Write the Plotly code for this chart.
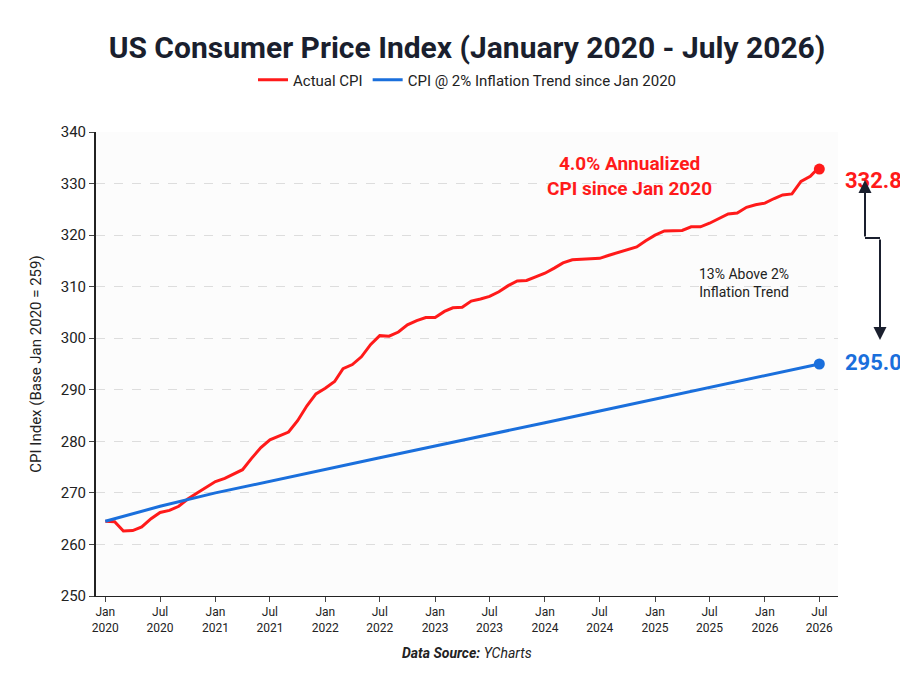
import plotly.graph_objects as go
import pandas as pd

dates = pd.date_range("2020-01-01", "2026-07-01", freq="MS")
actual_cpi = [264.5,264.4,262.6,262.7,263.4,265.0,266.2,266.6,267.4,268.8,270.0,271.0,
              272.2,272.8,273.6,274.5,276.7,278.8,280.3,281.0,281.8,284.0,286.9,289.2,
              290.3,291.6,294.1,294.9,296.4,298.8,300.5,300.4,301.2,302.6,303.4,304.0,
              304.0,305.2,305.9,306.0,307.2,307.6,308.1,309.0,310.2,311.1,311.2,311.9,
              312.6,313.6,314.6,315.2,315.3,315.3,315.5,316.1,316.6,317.2,317.7,318.9,
              320.0,320.8,320.8,320.9,321.6,321.6,322.3,323.2,324.1,324.3,325.4,325.9,
              326.2,327.1,327.8,328.0,330.4,331.4,333.2]
trend_dates = ["2020-01-01","2020-07-01","2021-01-01","2021-07-01","2022-01-01","2022-07-01",
               "2023-01-01","2023-07-01","2024-01-01","2024-07-01","2025-01-01","2025-07-01",
               "2026-01-01","2026-07-01"]
trend_cpi = [264.5,267.4,270.0,272.3,274.6,276.8,279.1,281.3,283.6,285.9,288.2,290.5,292.8,295.0]
tick_vals = pd.date_range("2020-01-01", "2026-07-01", freq="6MS")
tick_text = [f"{d.strftime('%b')}<br>{d.year}" for d in tick_vals]

RED = "#ff1a1a"
BLUE = "#1a6fdc"
FONT = "Roboto"

fig = go.Figure()
fig.add_trace(go.Scatter(x=dates, y=actual_cpi, mode="lines", name="Actual CPI",
                         line=dict(color=RED, width=3)))
fig.add_trace(go.Scatter(x=trend_dates, y=trend_cpi, mode="lines",
                         name="CPI @ 2% Inflation Trend since Jan 2020",
                         line=dict(color=BLUE, width=3)))
fig.add_trace(go.Scatter(x=[dates[-1]], y=[332.8], mode="markers", showlegend=False,
                         marker=dict(color=RED, size=11), cliponaxis=False))
fig.add_trace(go.Scatter(x=[trend_dates[-1]], y=[trend_cpi[-1]], mode="markers", showlegend=False,
                         marker=dict(color=BLUE, size=11), cliponaxis=False))

L, R, T, B = 88, 830, 124, 588
def px(x): return (x - L) / (R - L)
def py(y): return (B - y) / (B - T)

ann = [
    dict(x=px(835), y=py(158), xref="paper", yref="paper", text="<b>332.8</b>", showarrow=False,
         xanchor="left", font=dict(color=RED, size=22, family=FONT)),
    dict(x=px(835), y=py(354), xref="paper", yref="paper", text="<b>295.0</b>", showarrow=False,
         xanchor="left", font=dict(color=BLUE, size=22, family=FONT)),
    dict(x=px(706), y=py(142), xref="paper", yref="paper",
         text="<b>4.0% Annualized<br>CPI since Jan 2020</b>", showarrow=False,
         font=dict(color=RED, size=19, family=FONT)),
    dict(x=px(783), y=py(256), xref="paper", yref="paper",
         text="13% Above 2%<br>Inflation Trend", showarrow=False,
         font=dict(color="#222", size=14, family=FONT)),
    dict(x=px(857), y=py(172), ax=0, ay=58, xref="paper", yref="paper",
         text="", showarrow=True, arrowhead=2, arrowsize=1.3,
         arrowwidth=2, arrowcolor="#1a1f2e"),
    dict(x=px(872), y=py(332), ax=0, ay=-102, xref="paper", yref="paper",
         text="", showarrow=True, arrowhead=2, arrowsize=1.3,
         arrowwidth=2, arrowcolor="#1a1f2e"),
    dict(x=0.5, y=py(655), xref="paper", yref="paper",
         text="<b><i>Data Source:</i></b><i> YCharts</i>", showarrow=False,
         font=dict(color="#222", size=14, family=FONT)),
]
shapes = [dict(type="line", xref="paper", yref="paper", x0=px(857), x1=px(872),
               y0=py(230), y1=py(230), line=dict(color="#1a1f2e", width=2))]

fig.update_layout(
    width=908, height=681, plot_bgcolor="#fcfcfc", paper_bgcolor="white",
    margin=dict(l=L, r=908 - R, t=T, b=681 - B),
    title=dict(text="<b>US Consumer Price Index (January 2020 - July 2026)</b>",
               x=0.5, xref="paper", y=0.958, font=dict(size=30, family=FONT, color="#1a1f2e")),
    legend=dict(orientation="h", x=0.5, xanchor="center", y=py(72), yanchor="middle",
                yref="paper", font=dict(size=15, family=FONT, color="#222")),
    font=dict(family=FONT, color="#222"),
    annotations=ann, shapes=shapes,
    xaxis=dict(range=["2019-12-01", "2026-09-01"], tickvals=tick_vals, ticktext=tick_text,
               showgrid=False, showline=True, linecolor="#222", ticks="outside",
               tickfont=dict(size=12, family=FONT), zeroline=False),
    yaxis=dict(range=[250, 340], dtick=10, showgrid=True, gridcolor="#dddddd",
               griddash="dash", showline=True, linecolor="#222", linewidth=2, ticks="outside",
               tickfont=dict(size=15, family=FONT), zeroline=False,
               title=dict(text="CPI Index (Base Jan 2020 = 259)", font=dict(size=15, family=FONT))),
)
fig.write_html("out.html")
